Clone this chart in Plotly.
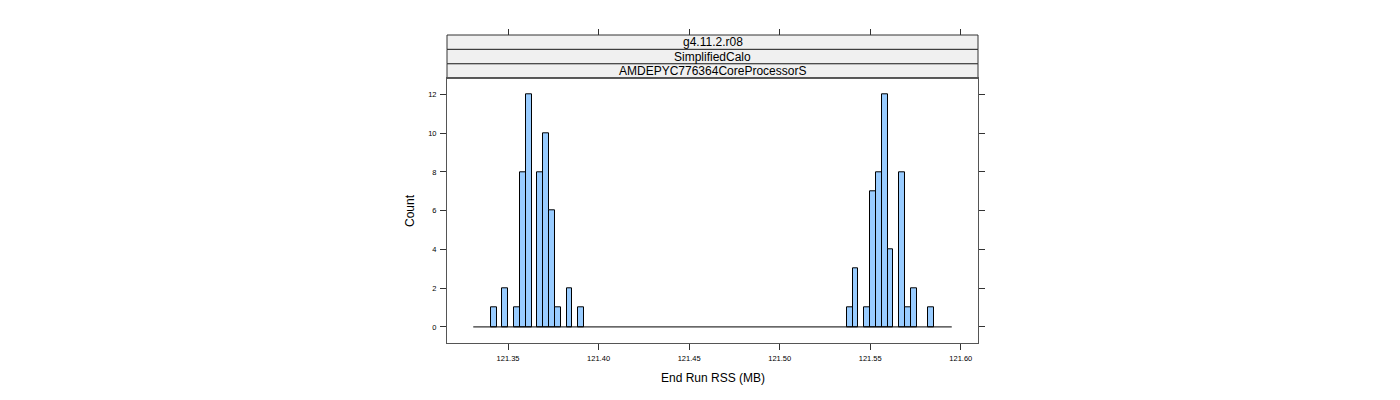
import plotly.graph_objects as go

# ---- data ----
bin_start = 121.3308          # left edge of first histogram bin (MB)
bin_width = 0.003222          # histogram bin width (MB)
n_bins = 82                   # number of bins
bin_index = [3, 5, 7, 8, 9, 11, 12, 13, 14, 16, 18,
             64, 65, 67, 68, 69, 70, 71, 73, 74, 75, 78]
bin_count = [1, 2, 1, 8, 12, 8, 10, 6, 1, 2, 1,
             1, 3, 1, 7, 8, 12, 4, 8, 1, 2, 1]

x_ticks = [121.35, 121.40, 121.45, 121.50, 121.55, 121.60]
x_tick_labels = ["121.35", "121.40", "121.45", "121.50", "121.55", "121.60"]
y_ticks = [0, 2, 4, 6, 8, 10, 12]
strip_labels = ["g4.11.2.r08", "SimplifiedCalo", "AMDEPYC776364CoreProcessorS"]
x_title = "End Run RSS (MB)"
y_title = "Count"

# ---- derived ----
centers = [bin_start + (i + 0.5) * bin_width for i in bin_index]
edge_first = bin_start
edge_last = bin_start + n_bins * bin_width

FONT = "Liberation Sans, Arial, Helvetica, sans-serif"
BORDER = "#555555"
TICK = "#333333"
TICK_FONT = 7.5

# layout geometry (pixels)
W, H = 1400, 400
L, R, T, B = 447, 422, 35, 57
plot_h = H - T - B            # 308
panel_top_px = 78.3
strip_px = [35.0, 49.4, 63.8, 78.3]


def py(p):
    return (H - B - p) / plot_h


fig = go.Figure()

# zero-count bins show as a flat line at 0
fig.add_trace(go.Scatter(
    x=[edge_first, edge_last], y=[0, 0], mode="lines",
    line=dict(color="black", width=1), hoverinfo="skip", showlegend=False))

fig.add_trace(go.Bar(
    x=centers, y=bin_count, width=bin_width,
    marker=dict(color="#99CCFF", line=dict(color="black", width=1)),
    showlegend=False))

# invisible trace to carry the top tick axis
fig.add_trace(go.Scatter(
    x=[edge_first], y=[0], xaxis="x2", yaxis="y", mode="markers",
    marker=dict(opacity=0), hoverinfo="skip", showlegend=False))

x_range = [121.3163, 121.6095]

fig.update_layout(
    width=W, height=H,
    margin=dict(l=L, r=R, t=T, b=B, pad=0),
    paper_bgcolor="white", plot_bgcolor="white",
    font=dict(family=FONT, color="black"),
    xaxis=dict(
        range=x_range, tickvals=x_ticks, ticktext=x_tick_labels,
        ticks="outside", ticklen=6, tickcolor=TICK, tickwidth=1,
        tickfont=dict(size=TICK_FONT, family=FONT, color="black"),
        ticklabelstandoff=2,
        showgrid=False, zeroline=False,
        showline=True, linecolor=BORDER, linewidth=1, mirror=True,
        anchor="y", domain=[0, 1],
    ),
    xaxis2=dict(
        range=x_range, tickvals=x_ticks, showticklabels=False,
        ticks="outside", ticklen=6, tickcolor=TICK, tickwidth=1,
        showgrid=False, zeroline=False, showline=False,
        overlaying="x", side="top", anchor="free", position=1,
    ),
    yaxis=dict(
        range=[-0.83, 12.83], tickvals=y_ticks,
        ticks="outside", ticklen=6, tickcolor=TICK, tickwidth=1,
        tickfont=dict(size=TICK_FONT, family=FONT, color="black"),
        ticklabelstandoff=2,
        showgrid=False, zeroline=False,
        showline=True, linecolor=BORDER, linewidth=1, mirror="ticks",
        domain=[0, py(panel_top_px)],
    ),
    bargap=0,
)

shapes = []
for i in range(3):
    shapes.append(dict(
        type="rect", xref="paper", yref="paper",
        x0=0, x1=1, y0=py(strip_px[i + 1]), y1=py(strip_px[i]),
        fillcolor="#F0F0F0", line=dict(color="#333333", width=1),
        layer="below"))
fig.update_layout(shapes=shapes)

annotations = []
for i, lab in enumerate(strip_labels):
    annotations.append(dict(
        text=lab, xref="paper", yref="paper", x=0.5,
        y=(py(strip_px[i]) + py(strip_px[i + 1])) / 2,
        showarrow=False, xanchor="center", yanchor="middle",
        font=dict(size=12, family=FONT, color="black")))
annotations.append(dict(
    text=x_title, xref="paper", yref="paper",
    x=(712.5 - L) / (W - L - R), y=py(378),
    showarrow=False, xanchor="center", yanchor="middle",
    font=dict(size=12, family=FONT, color="black")))
annotations.append(dict(
    text=y_title, xref="paper", yref="paper",
    x=(410 - L) / (W - L - R), y=py(211),
    showarrow=False, xanchor="center", yanchor="middle", textangle=-90,
    font=dict(size=12, family=FONT, color="black")))
fig.update_layout(annotations=annotations)

fig.write_html("out.html")
